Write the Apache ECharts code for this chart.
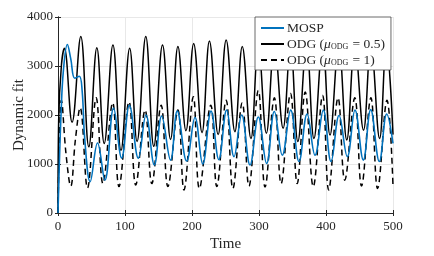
<!DOCTYPE html>
<html><head><meta charset="utf-8">
<script src="https://cdn.jsdelivr.net/npm/echarts@6/dist/echarts.min.js"></script>
<style>html,body{margin:0;padding:0;background:#fff}#c{width:434px;height:256px}</style>
</head><body><div id="c"></div>
<script>
var xTicks = [0, 100, 200, 300, 400, 500];
var yTicks = [0, 1000, 2000, 3000, 4000];
var seriesNames = ['MOSP', 'ODG05', 'ODG1'];

var mospT = [0, 2, 4.5, 8, 14, 19, 25, 31.8, 36, 40, 48, 59, 70, 83, 95, 106.5, 119.9, 131.3, 143.8, 154.7, 168, 178, 192, 204.5, 216, 228.4, 240, 251.7, 262.7, 274.2, 286.6, 299, 311.4, 322.9, 334.8, 347.3, 359.7, 371.8, 383.6, 396, 407.5, 419.5, 431.8, 443.3, 455.7, 466.7, 479.6, 490.6, 500];
var mospV = [0, 1000, 2000, 2900, 3440, 3150, 2750, 2790, 2500, 1500, 640, 1430, 670, 2140, 1120, 2200, 1116, 2000, 980, 1980, 1080, 2080, 1060, 1950, 1000, 2080, 1090, 2100, 1150, 2000, 980, 1960, 1010, 2070, 1180, 2100, 1050, 2020, 1180, 2100, 1050, 1990, 1150, 2100, 1080, 2110, 1050, 2020, 1420];

var odg05T = [0, 1, 5, 9.5, 21, 34, 46, 58, 69, 82, 94, 107, 118, 131, 143, 156, 168, 179, 191, 202.5, 215, 226, 239, 251, 264, 275, 288, 299, 311, 323, 336, 347, 358, 371, 382, 395, 406, 419, 431, 443, 456, 467, 480, 490, 500];
var odg05V = [0, 1900, 3000, 3360, 1850, 3600, 1350, 3370, 1420, 3430, 1280, 3360, 1460, 3600, 1360, 3430, 1500, 3400, 1680, 3460, 1640, 3510, 1600, 3530, 1660, 3400, 1520, 3450, 1630, 3450, 1730, 3450, 1460, 3450, 1520, 3450, 1590, 3450, 1490, 3450, 1690, 3450, 1520, 3450, 1600];

var odg1T = [0, 2, 5, 12, 19, 26, 33, 44, 57, 67, 81.6, 91, 106, 116, 130, 140, 154, 164, 179, 188, 202, 211, 228, 237, 251, 261, 275, 285, 299, 309, 323, 333, 347, 357, 369, 381, 395, 404, 418, 428, 443, 453, 467, 477, 491, 500];
var odg1V = [0, 1400, 2300, 1200, 550, 1500, 2150, 510, 2350, 600, 2250, 540, 2270, 570, 2100, 600, 2200, 540, 2100, 470, 2370, 500, 2200, 540, 2300, 500, 2250, 550, 2500, 530, 2350, 600, 2440, 600, 2470, 540, 2400, 470, 2350, 670, 2350, 550, 2350, 500, 2300, 550];

function pairs(t, v) { return t.map(function (x, i) { return [x, v[i]]; }); }

var serif = 'Liberation Serif';
var txt = '#262626';
var chart = echarts.init(document.getElementById('c'), null, {renderer: 'canvas'});
var axisCommon = {
  axisLine: {show: true, lineStyle: {color: txt, width: 1}},
  axisTick: {show: true, inside: true, length: 3, lineStyle: {color: txt}},
};
function plain(v) { return String(v); }
chart.setOption({
  animation: false,
  backgroundColor: '#fff',
  grid: {left: 58, right: 41, top: 17, bottom: 43, show: false, containLabel: false, outerBoundsMode: 'none'},
  legend: {
    orient: 'vertical', left: 255, top: 17,
    backgroundColor: '#fff', borderColor: '#444', borderWidth: 0.8,
    padding: [4, 6, 3, 5], itemGap: 2, itemWidth: 23, itemHeight: 14,
    data: seriesNames,
    itemStyle: {opacity: 0},
    formatter: function (n) {
      if (n === 'MOSP') return 'MOSP';
      if (n === 'ODG05') return 'ODG ({i|μ}{sub|ODG} = 0.5)';
      return 'ODG ({i|μ}{sub|ODG} = 1)';
    },
    textStyle: {
      fontFamily: serif, fontSize: 13.5, color: txt, padding: [0, 0, 0, -2],
      rich: {
        i: {fontFamily: serif, fontStyle: 'italic', fontSize: 13.5, color: txt},
        sub: {fontFamily: serif, fontSize: 8, color: txt, padding: [6, 1, 0, 0]}
      }
    }
  },
  xAxis: [Object.assign({
    type: 'value', min: 0, max: 500, interval: 100, position: 'bottom',
    name: 'Time', nameLocation: 'middle', nameGap: 24, nameMoveOverlap: false,
    nameTextStyle: {fontFamily: serif, fontSize: 15, color: txt},
    axisLabel: {fontFamily: serif, fontSize: 13, color: txt, margin: 7, formatter: plain},
    splitLine: {show: true, lineStyle: {color: '#e8e8e8', width: 1}}
  }, axisCommon), Object.assign({
    type: 'value', min: 0, max: 500, interval: 100, position: 'top',
    axisLabel: {show: false}, splitLine: {show: false}
  }, axisCommon)],
  yAxis: [Object.assign({
    type: 'value', min: 0, max: 4000, interval: 1000, position: 'left',
    name: 'Dynamic fit', nameLocation: 'middle', nameGap: 31, nameMoveOverlap: false,
    nameTextStyle: {fontFamily: serif, fontSize: 15, color: txt},
    axisLabel: {fontFamily: serif, fontSize: 13, color: txt, margin: 5, formatter: plain},
    splitLine: {show: true, lineStyle: {color: '#e8e8e8', width: 1}}
  }, axisCommon), Object.assign({
    type: 'value', min: 0, max: 4000, interval: 1000, position: 'right',
    axisLabel: {show: false}, splitLine: {show: false}
  }, axisCommon)],
  series: [
    {name: 'ODG1', type: 'line', data: pairs(odg1T, odg1V), showSymbol: false, symbol: 'none', smooth: 0.4,
      lineStyle: {color: '#000', width: 1.5, type: [6, 4]}, itemStyle: {color: '#000'}, z: 2},
    {name: 'ODG05', type: 'line', data: pairs(odg05T, odg05V), showSymbol: false, symbol: 'none', smooth: 0.4,
      lineStyle: {color: '#000', width: 1.5}, itemStyle: {color: '#000'}, z: 3},
    {name: 'MOSP', type: 'line', data: pairs(mospT, mospV), showSymbol: false, symbol: 'none', smooth: 0.4,
      lineStyle: {color: '#0072BD', width: 1.6}, itemStyle: {color: '#0072BD'}, z: 4}
  ]
});
</script></body></html>
